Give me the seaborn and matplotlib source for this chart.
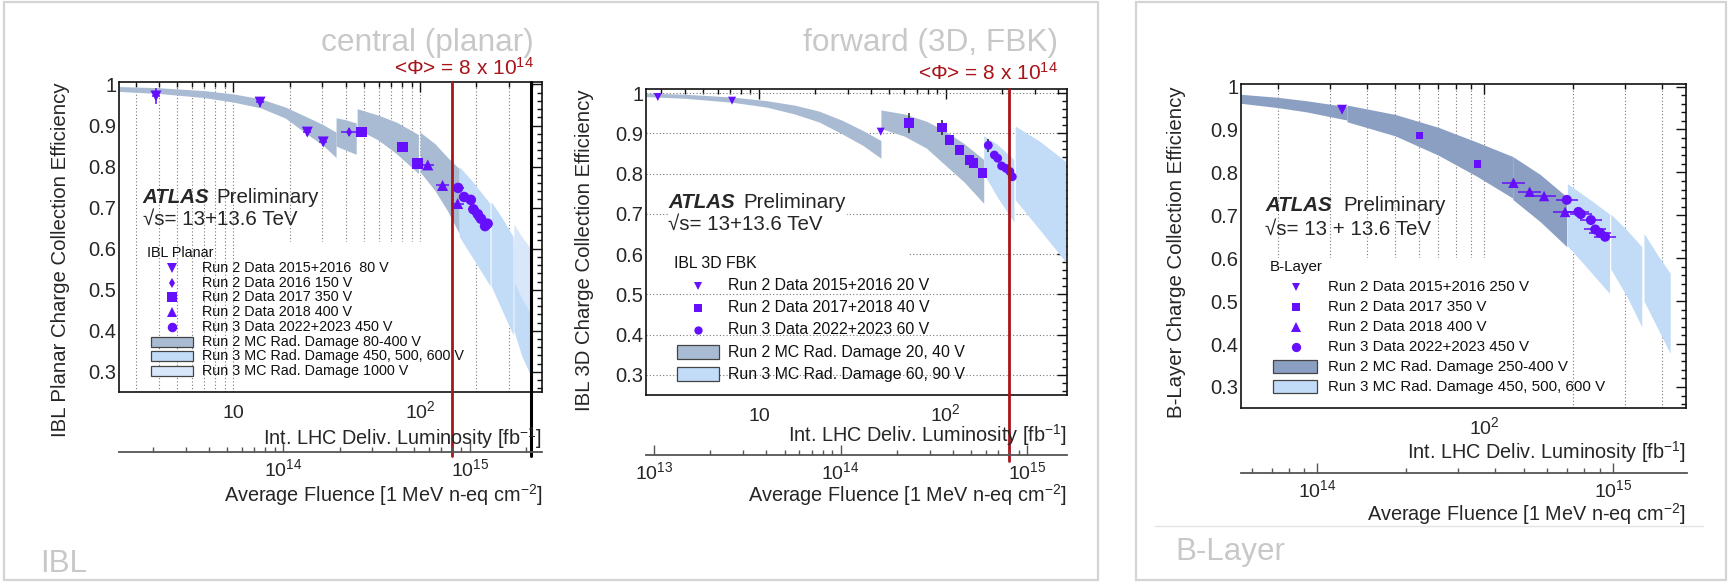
import numpy as np
import pandas as pd
import matplotlib
matplotlib.use("Agg")
import matplotlib.pyplot as plt
import seaborn as sns
from matplotlib.lines import Line2D
from matplotlib.patches import Rectangle
from matplotlib.ticker import (FixedLocator, LogLocator, NullFormatter,
                               MultipleLocator, FuncFormatter)

# ======================= DATA =======================
# ---- IBL planar (left panel) ----
ibl_80v_lumi = [3.85, 13.9, 24.9, 30.3]
ibl_80v_cce = [0.972, 0.957, 0.884, 0.860]
ibl_80v_yerr = [0.020, 0.012, 0.010, 0.010]
ibl_150v_lumi = [41.7]
ibl_150v_cce = [0.884]
ibl_350v_lumi = [48.7, 80.7, 96.8]
ibl_350v_cce = [0.884, 0.848, 0.807]
ibl_400v_lumi = [110, 132, 159]
ibl_400v_cce = [0.804, 0.754, 0.710]
ibl_450v_lumi = [160, 172, 187, 193, 204, 212, 223, 230]
ibl_450v_cce = [0.748, 0.726, 0.719, 0.696, 0.684, 0.673, 0.655, 0.661]

ibl_mc_run2_lumi = [[2.44, 4, 7, 10, 14, 19, 25, 30, 35.5], [35.5, 40, 45.5],
                    [46, 60, 75, 98], [100, 120, 140, 162]]
ibl_mc_run2_hi = [[0.995, 0.992, 0.985, 0.977, 0.965, 0.945, 0.92, 0.903, 0.884],
                  [0.919, 0.914, 0.906], [0.941, 0.925, 0.908, 0.878],
                  [0.884, 0.856, 0.823, 0.795]]
ibl_mc_run2_lo = [[0.983, 0.978, 0.968, 0.957, 0.943, 0.918, 0.878, 0.853, 0.822],
                  [0.85, 0.84, 0.83], [0.892, 0.864, 0.831, 0.783],
                  [0.787, 0.742, 0.693, 0.637]]
ibl_mc_run3_lumi = [[162, 190, 237], [240, 275, 315], [318, 350, 392]]
ibl_mc_run3_hi = [[0.80, 0.765, 0.71], [0.715, 0.675, 0.63], [0.62, 0.58, 0.53]]
ibl_mc_run3_lo = [[0.63, 0.58, 0.51], [0.51, 0.45, 0.39], [0.40, 0.34, 0.29]]
ibl_mc_1000v_lumi = [318, 350, 392]
ibl_mc_1000v_hi = [0.66, 0.63, 0.60]
ibl_mc_1000v_lo = [0.52, 0.48, 0.44]

ibl_fluence_per_fb = 5.4e12
ibl_end_fluence = 2.12e15

# ---- IBL 3D FBK (middle panel) ----
fbk_20v_lumi = [2.87, 7.17, 44.9]
fbk_20v_cce = [0.990, 0.981, 0.904]
fbk_40v_lumi = [63.8, 95.5, 104.7, 118.9, 133.9, 140.7, 157.2]
fbk_40v_cce = [0.925, 0.914, 0.883, 0.859, 0.834, 0.826, 0.801]
fbk_40v_yerr = [0.025, 0.018, 0.008, 0.005, 0.005, 0.005, 0.006]
fbk_60v_lumi = [169.3, 182.4, 190, 199.5, 210.5, 221, 227.6]
fbk_60v_cce = [0.870, 0.846, 0.838, 0.819, 0.813, 0.805, 0.792]
fbk_60v_yerr = [0.016, 0.006, 0.005, 0.005, 0.005, 0.005, 0.008]

fbk_mc_run2_lumi = [[2.48, 4, 7.2, 11, 15.5, 21, 28, 36, 45],
                    [45, 60, 79, 100, 125, 160]]
fbk_mc_run2_hi = [[1.0, 0.997, 0.99, 0.981, 0.97, 0.955, 0.932, 0.907, 0.882],
                  [0.958, 0.948, 0.93, 0.905, 0.875, 0.835]]
fbk_mc_run2_lo = [[0.991, 0.987, 0.977, 0.965, 0.948, 0.928, 0.898, 0.87, 0.838],
                  [0.912, 0.893, 0.863, 0.82, 0.78, 0.726]]
fbk_mc_run3_lumi = [[160, 190, 232], [236, 320, 440]]
fbk_mc_run3_hi = [[0.894, 0.872, 0.835], [0.918, 0.88, 0.83]]
fbk_mc_run3_lo = [[0.80, 0.74, 0.68], [0.735, 0.66, 0.58]]

fbk_fluence_per_fb = 3.65e12

# ---- B-Layer (right panel) ----
bl_250v_lumi = [33.0]
bl_250v_cce = [0.946]
bl_350v_lumi = [60.4, 94.9]
bl_350v_cce = [0.886, 0.820]
bl_400v_lumi = [125.7, 142.6, 159.6, 188]
bl_400v_cce = [0.776, 0.755, 0.745, 0.708]
bl_450v_lumi = [190.6, 208.6, 212.6, 230, 237.9, 247, 257]
bl_450v_cce = [0.736, 0.708, 0.703, 0.689, 0.667, 0.659, 0.650]

bl_mc_run2_lumi = [[15, 20, 25, 30, 34.3], [34.3, 50, 70, 95, 125], [125, 155, 190.5]]
bl_mc_run2_hi = [[0.982, 0.975, 0.967, 0.959, 0.953], [0.957, 0.935, 0.905, 0.87, 0.837],
                 [0.837, 0.795, 0.743]]
bl_mc_run2_lo = [[0.961, 0.951, 0.941, 0.93, 0.922], [0.918, 0.885, 0.84, 0.79, 0.74],
                 [0.737, 0.685, 0.627]]
bl_mc_run3_lumi = [[191.4, 225, 266], [268.5, 305, 342], [348, 385, 427]]
bl_mc_run3_hi = [[0.774, 0.74, 0.703], [0.703, 0.665, 0.627], [0.658, 0.61, 0.565]]
bl_mc_run3_lo = [[0.629, 0.575, 0.518], [0.575, 0.51, 0.44], [0.50, 0.44, 0.378]]

bl_fluence_per_fb = 3.68e12

phi_ref = 8e14

# legend texts
ibl_legend_labels = ["Run 2 Data 2015+2016  80 V", "Run 2 Data 2016 150 V",
                     "Run 2 Data 2017 350 V", "Run 2 Data 2018 400 V",
                     "Run 3 Data 2022+2023 450 V", "Run 2 MC Rad. Damage 80-400 V",
                     "Run 3 MC Rad. Damage 450, 500, 600 V", "Run 3 MC Rad. Damage 1000 V"]
fbk_legend_labels = ["Run 2 Data 2015+2016 20 V", "Run 2 Data 2017+2018 40 V",
                     "Run 3 Data 2022+2023 60 V", "Run 2 MC Rad. Damage 20, 40 V",
                     "Run 3 MC Rad. Damage 60, 90 V"]
bl_legend_labels = ["Run 2 Data 2015+2016 250 V", "Run 2 Data 2017 350 V",
                    "Run 2 Data 2018 400 V", "Run 3 Data 2022+2023 450 V",
                    "Run 2 MC Rad. Damage 250-400 V", "Run 3 MC Rad. Damage 450, 500, 600 V"]

# ======================= STYLE =======================
sns.set_style("white")
plt.rcParams['font.family'] = ['Liberation Sans', 'DejaVu Sans']
plt.rcParams['mathtext.fontset'] = 'custom'
plt.rcParams['mathtext.rm'] = 'Liberation Sans'
plt.rcParams['mathtext.it'] = 'Liberation Sans:italic'
plt.rcParams['mathtext.bf'] = 'Liberation Sans:bold'

PURPLE = '#650ffc'
C_R2 = '#a9bbd3'
C_R2_BL = '#8a9fc1'
C_R3 = '#c2dbf7'
C_1000 = '#d8e7f9'
RED = '#a8141a'
GRAY_T = '#c8c8c8'
PX = 100 / 72.0
XT_FS = 14.0
TITLE_FS = 14.3

W, H = 1729, 583
fig = plt.figure(figsize=(W / 100, H / 100), dpi=100)


def FX(x):
    return x / W


def FY(y):
    return 1 - y / H


def make_axes(l, t, r, b):
    return fig.add_axes([FX(l), FY(b), (r - l) / W, (b - t) / H])


def style_main(ax, xlim, ylim, xt, xtl):
    ax.set_xscale('log')
    ax.set_xlim(*xlim)
    ax.set_ylim(*ylim)
    ax.yaxis.set_major_locator(MultipleLocator(0.1))
    ax.yaxis.set_minor_locator(MultipleLocator(0.02))
    ax.yaxis.set_major_formatter(FuncFormatter(
        lambda v, p: '1' if abs(v - 1) < 1e-6 else f'{v:.1f}'))
    ax.xaxis.set_major_locator(FixedLocator(xt))
    ax.xaxis.set_minor_locator(LogLocator(base=10, subs=np.arange(2, 10), numticks=50))
    ax.xaxis.set_minor_formatter(NullFormatter())
    ax.set_xticklabels(xtl)
    ax.tick_params(which='both', direction='in', top=True, right=True,
                   color='#111', width=1.0)
    ax.tick_params(which='major', length=7.5, labelsize=14.5)
    ax.tick_params(axis='x', which='major', labelsize=XT_FS)
    ax.tick_params(which='minor', length=3.8)
    ax.tick_params(axis='y', pad=2)
    ax.tick_params(axis='x', pad=18.5)
    plt.setp(ax.get_xticklabels(), va='baseline')
    for s in ax.spines.values():
        s.set_linewidth(1.2)
        s.set_color('#111')
    ax.set_xlabel('')
    ax.set_ylabel('')
    ax.set_axisbelow(True)


def fluence_axis(l, r, yline, xlim, factor):
    fa = fig.add_axes([FX(l), FY(yline), (r - l) / W, 1e-4])
    fa.set_xscale('log')
    fa.set_xlim(xlim[0] * factor, xlim[1] * factor)
    for k in ('left', 'right', 'top'):
        fa.spines[k].set_visible(False)
    fa.spines['bottom'].set_color('#555')
    fa.spines['bottom'].set_linewidth(1.3)
    fa.yaxis.set_visible(False)
    fa.patch.set_visible(False)
    fa.xaxis.set_major_locator(LogLocator(base=10, numticks=10))
    fa.xaxis.set_minor_locator(LogLocator(base=10, subs=np.arange(2, 10), numticks=100))
    fa.xaxis.set_minor_formatter(NullFormatter())
    fa.tick_params(which='both', direction='in', top=False, bottom=True,
                   color='#555', width=1.0)
    fa.tick_params(which='major', length=7, labelsize=XT_FS, pad=17.5)
    fa.tick_params(which='minor', length=3.5)
    plt.setp(fa.get_xticklabels(), va='baseline')
    return fa


def draw_bands(ax, lumis, his, los, color):
    for xs, hi, lo in zip(lumis, his, los):
        ax.fill_between(xs, lo, hi, color=color, lw=0, zorder=2)


def draw_points(ax, lumi, cce, marker, size_px, yerr=None, xrel=None, ecolor=PURPLE):
    df = pd.DataFrame({'lumi': lumi, 'cce': cce})
    if yerr is not None or xrel is not None:
        xe = None
        if xrel is not None:
            xa = np.asarray(lumi, float)
            xe = [xa - xa / (1 + xrel), xa * (1 + xrel) - xa]
        ax.errorbar(df['lumi'], df['cce'], yerr=yerr, xerr=xe, fmt='none',
                    ecolor=ecolor, elinewidth=1.1, capsize=0, zorder=4)
    sns.scatterplot(data=df, x='lumi', y='cce', marker=marker, s=(size_px / PX) ** 2,
                    color=PURPLE, linewidth=0, edgecolor='none', ax=ax,
                    legend=False, zorder=5)


def white_box(ax, x0, x1, y0, y1):
    ax.fill_between([x0, x1], [y0, y0], [y1, y1], color='white', lw=0, zorder=1)


def legend(title, tx0, ty, rows, labels, mx, tx, ys, fs, bx, bw, bh):
    fig.text(FX(tx0), FY(ty), title, fontsize=fs, va='center', ha='left', color='#111')
    for (kind, spec), lab, y in zip(rows, labels, ys):
        if kind == 'm':
            mk, sz = spec
            fig.add_artist(Line2D([FX(mx)], [FY(y)], marker=mk, markersize=sz / PX,
                                  color=PURPLE, lw=0, mew=0,
                                  transform=fig.transFigure))
        else:
            fig.add_artist(Rectangle((FX(bx), FY(y + bh / 2)), bw / W, bh / H,
                                     fc=spec, ec='#444', lw=0.9,
                                     transform=fig.transFigure))
        fig.text(FX(tx), FY(y), lab, fontsize=fs, va='center', ha='left', color='#111')


def atlas(x_atlas, x_prel, y_base, y2_base, energy):
    fig.text(FX(x_atlas), FY(y_base), 'ATLAS', fontsize=14.8, fontweight='bold',
             fontstyle='italic', va='baseline', ha='left')
    fig.text(FX(x_prel), FY(y_base), 'Preliminary', fontsize=14.8,
             va='baseline', ha='left')
    fig.text(FX(x_atlas), FY(y2_base), energy, fontsize=14.8,
             va='baseline', ha='left')


LUMI_TITLE = r'Int. LHC Deliv. Luminosity [fb$^{-1}$]'
FLU_TITLE = r'Average Fluence [1 MeV n-eq cm$^{-2}$]'

# ======================= FRAMES =======================
fig.add_artist(Rectangle((FX(4), FY(580)), (1098 - 4) / W, (580 - 2) / H, fill=False,
                         ec='#d4d4d4', lw=1.6, transform=fig.transFigure, zorder=0))
fig.add_artist(Rectangle((FX(1136), FY(580)), (1726 - 1136) / W, (580 - 2) / H,
                         fill=False, ec='#d4d4d4', lw=1.6, transform=fig.transFigure,
                         zorder=0))
fig.add_artist(Line2D([FX(1155), FX(1703)], [FY(526), FY(526)], color='#e4e4e4',
                      lw=1.0, transform=fig.transFigure))
fig.text(FX(40), FY(572), 'IBL', fontsize=22.6, color=GRAY_T, va='baseline', ha='left')
fig.text(FX(1175), FY(560), 'B-Layer', fontsize=22.6, color=GRAY_T, va='baseline',
         ha='left')

# ======================= PANEL 1: IBL planar =======================
xl1 = (2.44, 450)
ax1 = make_axes(119, 82, 542, 392)
draw_bands(ax1, ibl_mc_run2_lumi, ibl_mc_run2_hi, ibl_mc_run2_lo, C_R2)
draw_bands(ax1, ibl_mc_run3_lumi, ibl_mc_run3_hi, ibl_mc_run3_lo, C_R3)
draw_bands(ax1, [ibl_mc_1000v_lumi], [ibl_mc_1000v_hi], [ibl_mc_1000v_lo], C_1000)
draw_points(ax1, ibl_80v_lumi, ibl_80v_cce, 'v', 11, yerr=ibl_80v_yerr, xrel=0.05)
draw_points(ax1, ibl_150v_lumi, ibl_150v_cce, 'd', 7, yerr=[0.01], xrel=0.1)
draw_points(ax1, ibl_350v_lumi, ibl_350v_cce, 's', 10.5, yerr=[0.005] * 3, xrel=0.06)
draw_points(ax1, ibl_400v_lumi, ibl_400v_cce, '^', 11, yerr=[0.005] * 3, xrel=0.08)
draw_points(ax1, ibl_450v_lumi, ibl_450v_cce, 'o', 10.5, xrel=0.07)
style_main(ax1, xl1, (0.251, 1.006), [10, 100], ['10', r'$10^{2}$'])
ax1.xaxis.grid(True, which='both', ls=(0, (1, 2)), color='#777', lw=0.8, zorder=0)
white_box(ax1, 11, 130, 0.251, 0.617)
ax1.axvline(phi_ref / ibl_fluence_per_fb, ymin=(392 - 456) / 310, ymax=1, color=RED,
            lw=2.0, clip_on=False, zorder=6)
ax1.axvline(ibl_end_fluence / ibl_fluence_per_fb, ymin=(392 - 456) / 310, ymax=1,
            color='black', lw=2.2, clip_on=False, zorder=6)
fluence_axis(119, 542, 452, xl1, ibl_fluence_per_fb)
fig.text(FX(542), FY(445), LUMI_TITLE, fontsize=TITLE_FS, ha='right', va='baseline')
fig.text(FX(543), FY(502), FLU_TITLE, fontsize=TITLE_FS, ha='right', va='baseline')
fig.text(FX(60), FY(82), 'IBL Planar Charge Collection Efficiency', fontsize=14.7,
         rotation=90, ha='center', va='top')
fig.text(FX(534), FY(51), 'central (planar)', fontsize=22.8, color=GRAY_T,
         ha='right', va='baseline')
fig.text(FX(534), FY(75), r'<Φ> = 8 x 10$^{14}$', fontsize=15, color=RED,
         ha='right', va='baseline')
atlas(142.7, 216.7, 202.7, 225, '√s= 13+13.6 TeV')
legend('IBL Planar', 147.3, 253,
       [('m', ('v', 9.5)), ('m', ('d', 6.5)), ('m', ('s', 9.3)), ('m', ('^', 9.5)),
        ('m', ('o', 9.5)), ('b', C_R2), ('b', C_R3), ('b', C_1000)],
       ibl_legend_labels, 171.7, 202.3,
       [268.3, 282.7, 297.3, 312, 326.7, 341.7, 356, 370.7], 10.4, 150.7, 42, 10)

# ======================= PANEL 2: IBL 3D FBK =======================
xl2 = (2.48, 447)
ax2 = make_axes(646, 89, 1067, 395)
draw_bands(ax2, fbk_mc_run2_lumi, fbk_mc_run2_hi, fbk_mc_run2_lo, C_R2)
draw_bands(ax2, fbk_mc_run3_lumi, fbk_mc_run3_hi, fbk_mc_run3_lo, C_R3)
draw_points(ax2, fbk_20v_lumi, fbk_20v_cce, 'v', 8)
draw_points(ax2, fbk_40v_lumi, fbk_40v_cce, 's', 9.5, yerr=fbk_40v_yerr, ecolor='#222')
draw_points(ax2, fbk_60v_lumi, fbk_60v_cce, 'o', 8.8, yerr=fbk_60v_yerr, ecolor='#222')
style_main(ax2, xl2, (0.25, 1.010), [10, 100], ['10', r'$10^{2}$'])
ax2.yaxis.grid(True, which='major', ls=(0, (1, 2)), color='#777', lw=0.8, zorder=0)
white_box(ax2, 3.27, 29.5, 0.68, 0.76)
white_box(ax2, 2.48, 63, 0.585, 0.62)
ax2.axvline(phi_ref / fbk_fluence_per_fb, ymin=(395 - 461) / 306, ymax=1, color=RED,
            lw=2.0, clip_on=False, zorder=6)
fluence_axis(646, 1067, 455, xl2, fbk_fluence_per_fb)
fig.text(FX(1067), FY(442), LUMI_TITLE, fontsize=TITLE_FS, ha='right', va='baseline')
fig.text(FX(1067), FY(502), FLU_TITLE, fontsize=TITLE_FS, ha='right', va='baseline')
fig.text(FX(585), FY(89), 'IBL 3D Charge Collection Efficiency', fontsize=14.7,
         rotation=90, ha='center', va='top')
fig.text(FX(1058), FY(51), 'forward (3D, FBK)', fontsize=22.8, color=GRAY_T,
         ha='right', va='baseline')
fig.text(FX(1058), FY(80), r'<Φ> = 8 x 10$^{14}$', fontsize=15, color=RED,
         ha='right', va='baseline')
atlas(668.3, 743.3, 208.3, 230, '√s= 13+13.6 TeV')
legend('IBL 3D FBK', 674.3, 264,
       [('m', ('v', 8)), ('m', ('s', 8.5)), ('m', ('o', 8.3)), ('b', C_R2), ('b', C_R3)],
       fbk_legend_labels, 697.7, 728.3, [286, 307.7, 330, 352.3, 374], 11.4,
       676.7, 42.3, 14)

# ======================= PANEL 3: B-Layer =======================
xl3 = (15.0, 483)
ax3 = make_axes(1241, 84, 1686, 408)
draw_bands(ax3, bl_mc_run2_lumi, bl_mc_run2_hi, bl_mc_run2_lo, C_R2_BL)
draw_bands(ax3, bl_mc_run3_lumi, bl_mc_run3_hi, bl_mc_run3_lo, C_R3)
draw_points(ax3, bl_250v_lumi, bl_250v_cce, 'v', 10)
draw_points(ax3, bl_350v_lumi, bl_350v_cce, 's', 7.5)
draw_points(ax3, bl_400v_lumi, bl_400v_cce, '^', 10.5, xrel=0.095)
draw_points(ax3, bl_450v_lumi, bl_450v_cce, 'o', 10, xrel=0.09)
style_main(ax3, xl3, (0.251, 1.006), [100], [r'$10^{2}$'])
ax3.xaxis.grid(True, which='both', ls=(0, (1, 2)), color='#777', lw=0.8, zorder=0)
white_box(ax3, 15.0, 108, 0.251, 0.6)
fluence_axis(1241, 1687, 473, xl3, bl_fluence_per_fb)
fig.text(FX(1686), FY(459), LUMI_TITLE, fontsize=TITLE_FS, ha='right', va='baseline')
fig.text(FX(1686), FY(521), FLU_TITLE, fontsize=TITLE_FS, ha='right', va='baseline')
fig.text(FX(1177), FY(86), 'B-Layer Charge Collection Efficiency', fontsize=14.7,
         rotation=90, ha='center', va='top')
atlas(1265, 1343.3, 210.7, 235, '√s= 13 + 13.6 TeV')
legend('B-Layer', 1270, 267.3,
       [('m', ('v', 8.7)), ('m', ('s', 7.5)), ('m', ('^', 9.3)), ('m', ('o', 9.3)),
        ('b', C_R2_BL), ('b', C_R3)],
       bl_legend_labels, 1295.7, 1327.7, [287.3, 307.3, 326.7, 346.7, 366.7, 386.7],
       10.9, 1273.3, 44, 13)

fig.savefig('out.png', dpi=100)
